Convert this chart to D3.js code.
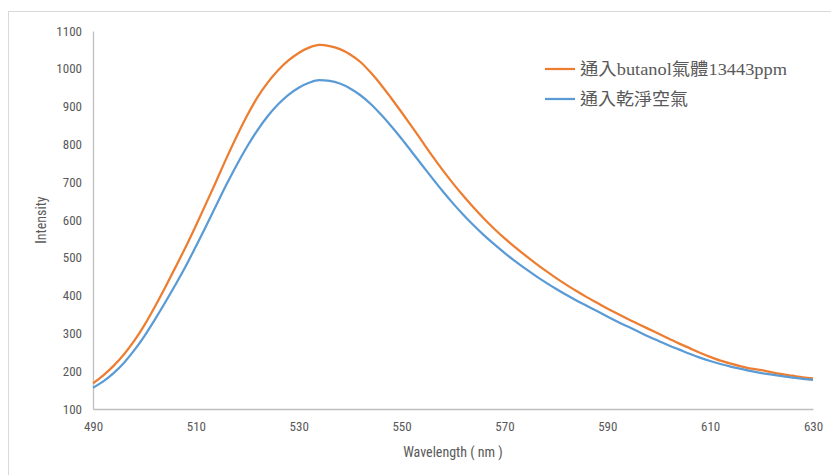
<!DOCTYPE html>
<html>
<head>
<meta charset="utf-8">
<script src="https://cdn.jsdelivr.net/npm/d3@7"></script>
<style>
  html, body { margin: 0; padding: 0; background: #fff; }
  svg { display: block; }
</style>
</head>
<body>
<svg id="chart" width="831" height="475"></svg>
<script>
// Emission spectra sampled every 2 nm
const wavelengths = d3.range(490, 631, 2);

const butanolIntensity = [
  168, 189, 214, 244, 280, 322, 370, 421, 474, 528,
  585, 644, 704, 765, 823, 877, 925, 964, 996, 1022,
  1042, 1056, 1063, 1060, 1052, 1038, 1018, 990, 958, 922,
  885, 847, 808, 769, 732, 697, 664, 633, 604, 577,
  552, 529, 507, 486, 466, 447, 429, 412, 396, 381,
  366, 352, 338, 325, 312, 299, 286, 273, 261, 249,
  238, 228, 220, 213, 207, 203, 197, 192, 188, 184,
  181
];

const airIntensity = [
  156, 173, 195, 222, 255, 293, 336, 381, 428, 477,
  530, 584, 640, 695, 747, 795, 838, 875, 906, 931,
  950, 963, 970, 968, 961, 948, 930, 907, 879, 848,
  815, 780, 745, 710, 676, 644, 614, 586, 560, 536,
  513, 492, 472, 453, 435, 418, 402, 387, 373, 359,
  345, 331, 318, 305, 292, 280, 268, 257, 246, 236,
  227, 219, 212, 206, 200, 195, 191, 187, 183, 180,
  177
];

const seriesNames = ["通入butanol氣體13443ppm", "通入乾淨空氣"];
const seriesColors = ["#ED7D31", "#5B9BD5"];
const xTicks = [490, 510, 530, 550, 570, 590, 610, 630];
const yTicks = [100, 200, 300, 400, 500, 600, 700, 800, 900, 1000, 1100];

const svg = d3.select("#chart");
const plot = { left: 93, right: 813, top: 31, bottom: 409 };

const x = d3.scaleLinear().domain([490, 630]).range([plot.left, plot.right]);
const y = d3.scaleLinear().domain([100, 1100]).range([plot.bottom, plot.top]);

const labelFont = "'Liberation Sans Narrow', 'Roboto Condensed', 'Liberation Sans', sans-serif";
const textColor = "#595959";

// chart frame
svg.append("rect")
  .attr("x", 8.5).attr("y", 11.5)
  .attr("width", 900).attr("height", 600)
  .attr("fill", "none").attr("stroke", "#D9D9D9").attr("stroke-width", 1);

// axes
const fmt = d3.format("d");
const xAxis = svg.append("g")
  .attr("transform", `translate(0,${plot.bottom})`)
  .call(d3.axisBottom(x).tickValues(xTicks).tickFormat(fmt).tickSize(0).tickPadding(13));
const yAxis = svg.append("g")
  .attr("transform", `translate(${plot.left},0)`)
  .call(d3.axisLeft(y).tickValues(yTicks).tickFormat(fmt).tickSize(0).tickPadding(11));

[xAxis, yAxis].forEach(g => {
  g.select(".domain").attr("stroke", "#BFBFBF").attr("stroke-width", 1.3);
  g.selectAll("text")
    .attr("fill", textColor)
    .style("font-family", labelFont)
    .style("font-size", "13px");
});

// axis titles
svg.append("text")
  .attr("x", (plot.left + plot.right) / 2).attr("y", 457)
  .attr("text-anchor", "middle")
  .attr("fill", textColor)
  .style("font-family", labelFont).style("font-size", "14px")
  .text("Wavelength ( nm )");

svg.append("text")
  .attr("transform", `translate(46,${(plot.top + plot.bottom) / 2}) rotate(-90)`)
  .attr("text-anchor", "middle")
  .attr("fill", textColor)
  .style("font-family", labelFont).style("font-size", "14px")
  .text("Intensity");

// spectra
const line = d3.line()
  .x((d, i) => x(wavelengths[i]))
  .y(d => y(d))
  .curve(d3.curveMonotoneX);

[butanolIntensity, airIntensity].forEach((values, i) => {
  svg.append("path")
    .datum(values)
    .attr("d", line)
    .attr("fill", "none")
    .attr("stroke", seriesColors[i])
    .attr("stroke-width", 2.25)
    .attr("stroke-linejoin", "round");
});

// legend
const legendFont = "'Liberation Serif', 'Noto Sans CJK TC', serif";
const legendWidths = [207, 108];
seriesNames.forEach((name, i) => {
  const ly = 69 + i * 30;
  svg.append("line")
    .attr("x1", 545).attr("x2", 575)
    .attr("y1", ly).attr("y2", ly)
    .attr("stroke", seriesColors[i]).attr("stroke-width", 2.25);
  svg.append("text")
    .attr("x", 580).attr("y", ly + 6)
    .attr("fill", textColor)
    .attr("textLength", legendWidths[i])
    .attr("lengthAdjust", "spacingAndGlyphs")
    .style("font-family", legendFont).style("font-size", "17px")
    .text(name);
});
</script>
</body>
</html>
